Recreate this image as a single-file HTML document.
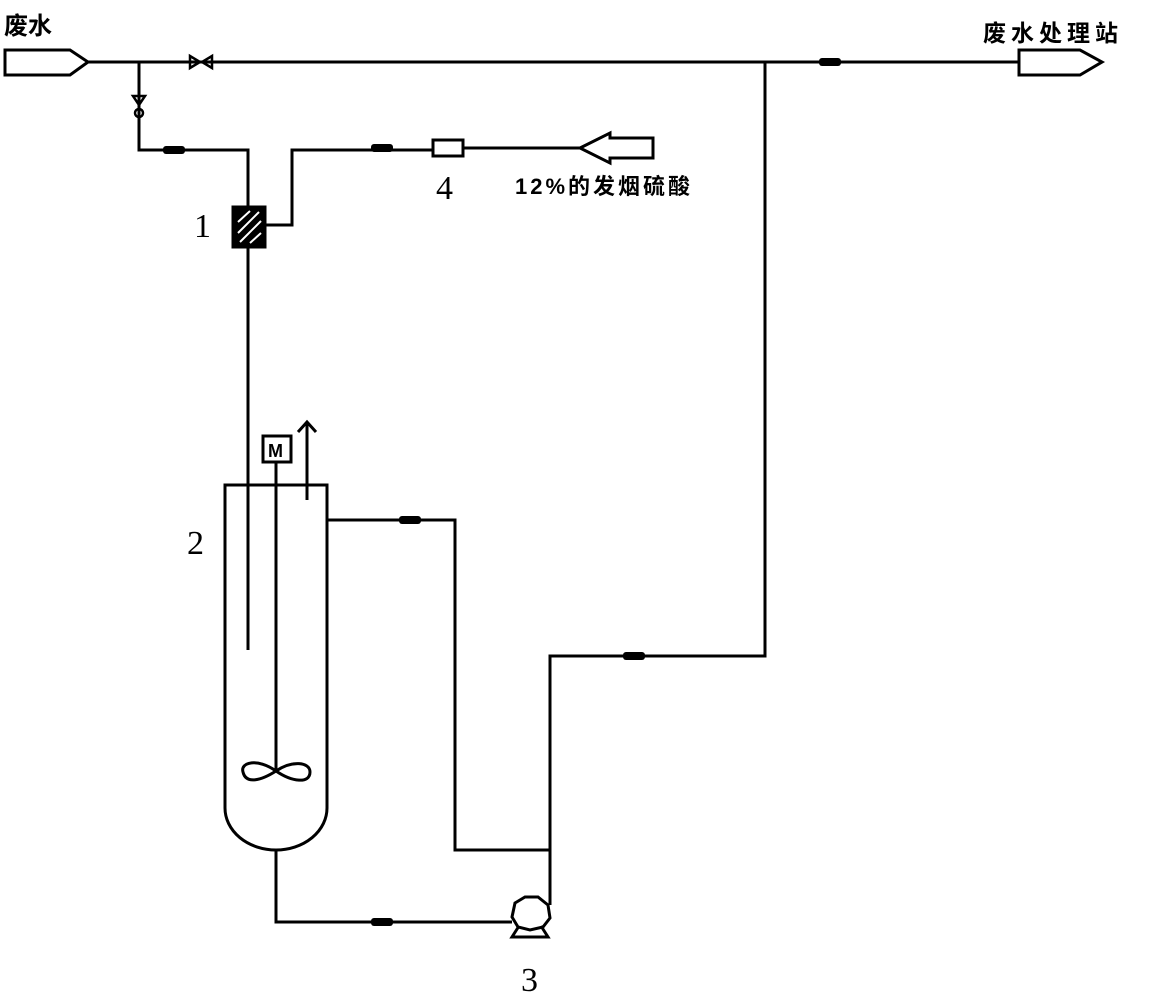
<!DOCTYPE html>
<html><head><meta charset="utf-8"><style>
html,body{margin:0;padding:0;background:#fff;}
svg{display:block}
.t{font-family:"Liberation Sans","Noto Sans CJK SC",sans-serif;font-weight:bold;fill:#000}
.n{font-family:"Liberation Serif",serif;fill:#000}
</style></head><body>
<svg width="1167" height="997" viewBox="0 0 1167 997" xmlns="http://www.w3.org/2000/svg">
<g fill="none" stroke="#000" stroke-width="3">
<path d="M5 50 H70 L88 62 L70 75 H5 Z"/>
<path d="M88 62 H1019"/>
<path d="M1019 50 H1080 L1102 62 L1080 75 H1019 Z"/>
<path d="M139 62 V150 H248 V207"/>
<path d="M248 247 V650"/>
<rect x="233" y="207" width="32" height="40" fill="#000"/>
<path d="M265 225 H292 V150 H433"/>
<rect x="433" y="140" width="30" height="16"/>
<path d="M463 148 H580"/>
<path d="M580 148 L610 133 V138 H653 V158 H610 V163 Z"/>
<path d="M225 808 V485 H327 V808 A51 42 0 0 1 225 808"/>
<rect x="263" y="436" width="28" height="26"/>
<path d="M276 462 V771"/>
<path d="M307 500 V422 M298 432 L307 422 L316 432"/>
<path d="M276 771 C258 758 240 762 243 772 C246 785 262 780 276 771 C292 760 310 762 310 772 C310 784 292 782 276 771 Z"/>
<path d="M327 520 H455 V850 H550"/>
<path d="M276 850 V922 H512"/>
<path d="M550 905 V656 H765 V62"/>
<polygon points="515,903 525,897 538,897 548,905 550,918 543,927 530,930 518,927 512,917"/>
<path d="M519 926 L512 937 H548 L541 926"/>
</g>
<g fill="none" stroke="#000" stroke-width="2.5">
<path d="M190 56 V68 L200 62 Z M212 56 V68 L202 62 Z"/>
<path d="M133 96 H145 L139 105 Z M135 113 A4 4 0 1 0 143 113 A4 4 0 1 0 135 113"/>
</g>
<g fill="#000">
<rect x="163" y="146" width="22" height="8" rx="3"/>
<rect x="371" y="144" width="22" height="8" rx="3"/>
<rect x="819" y="58" width="22" height="8" rx="3"/>
<rect x="399" y="516" width="22" height="8" rx="3"/>
<rect x="623" y="652" width="22" height="8" rx="3"/>
<rect x="371" y="918" width="22" height="8" rx="3"/>
</g>
<g stroke="#fff" stroke-width="2">
<path d="M238 222 L250 211 M238 233 L259 212 M240 242 L261 221 M250 243 L261 233"/>
</g>
<text class="t" x="268" y="457" font-size="18">M</text>
<text class="t" x="4" y="34" font-size="24">废水</text>
<text class="t" x="983" y="41" font-size="23" letter-spacing="5">废水处理站</text>
<text class="t" x="515" y="194" font-size="22" letter-spacing="3">12%的发烟硫酸</text>
<text class="n" x="436" y="199" font-size="34">4</text>
<text class="n" x="194" y="237" font-size="34">1</text>
<text class="n" x="187" y="554" font-size="34">2</text>
<text class="n" x="521" y="991" font-size="34">3</text>
</svg>
</body></html>
